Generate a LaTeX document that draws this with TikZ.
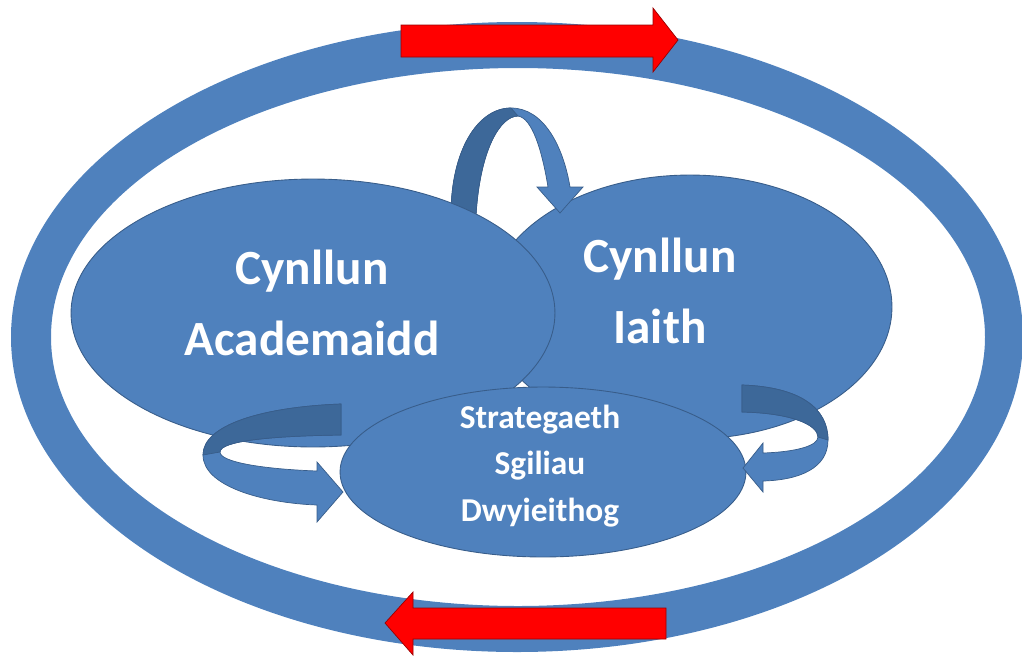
\documentclass[tikz,border=0pt]{standalone}
\usepackage{fontspec}
\setmainfont{Carlito}
\usepackage{tikz}
\usetikzlibrary{shapes.geometric,positioning}

\definecolor{offblue}{HTML}{4F81BD}
\definecolor{offline}{HTML}{385D8A}
\definecolor{offdark}{HTML}{3D6899}

\begin{document}
\begin{tikzpicture}[x=0.02cm,y=-0.02cm]
    \tikzstyle{blob}=[draw=offline,fill=offblue,ellipse,inner sep=0pt,line width=0.5pt]
    \tikzstyle{curlarrow}=[draw=offline,fill=offblue,line width=0.4pt]
    \tikzstyle{redarrow}=[draw=red!60!black,fill=red,line width=0.4pt]
    \tikzstyle{bigtext}=[text=white,font=\bfseries\fontsize{28}{40}\selectfont,align=center]
    \tikzstyle{smalltext}=[text=white,font=\bfseries\fontsize{19}{26.5}\selectfont,align=center]

    \useasboundingbox (0,0) rectangle (1022,657);

    % outer loop
    \fill[offblue,even odd rule] (517,337) ellipse (506 and 315) (518,337) ellipse (467 and 269);
    \draw[redarrow] (401,25) -- (653,25) -- (653,8) -- (678,40) -- (653,72) -- (653,57) -- (401,57) -- cycle;
    \draw[redarrow] (666,608) -- (413,608) -- (413,592) -- (385,623) -- (413,655) -- (413,639) -- (666,639) -- cycle;

    \node[blob,minimum width=8.08cm,minimum height=5.28cm] at (690,307) (iaith) {};

    % arrow over the top
    \draw[curlarrow] (451,215) .. controls (451,150) and (478,108) .. (511,108) .. controls (543,108) and (563,145) .. (570,187)
      -- (583,187) -- (560,213) -- (537,187) -- (548,187) .. controls (542,150) and (532,118) .. (518,116)
      .. controls (500,116) and (480,150) .. (476,215) -- cycle;
    \draw[curlarrow,fill=offdark] (451,215) .. controls (451,150) and (478,108) .. (511,108) -- (518,116)
      .. controls (500,116) and (480,150) .. (476,215) -- cycle;

    \node[blob,minimum width=9.68cm,minimum height=5.36cm] at (313,313) (acad) {};
    \node[blob,minimum width=8.12cm,minimum height=3.4cm] at (543,472) (sgil) {};

    % side arrows
    \draw[curlarrow] (341,404) .. controls (262,407) and (203,425) .. (203,455) .. controls (203,486) and (262,503) .. (317,505)
      -- (317,522) -- (343,492) -- (317,462) -- (317,471) .. controls (262,469) and (220,462) .. (220,452)
      .. controls (220,441) and (270,436) .. (341,435) -- cycle;
    \draw[curlarrow,fill=offdark] (341,404) .. controls (262,407) and (203,425) .. (203,455) -- (220,452)
      .. controls (220,441) and (270,436) .. (341,435) -- cycle;
    \draw[curlarrow] (742,385) .. controls (800,387) and (828,408) .. (828,440) .. controls (828,468) and (800,480) .. (763,481)
      -- (763,492) -- (743,468) -- (763,443) -- (763,453) .. controls (795,452) and (818,446) .. (818,437)
      .. controls (818,425) and (792,413) .. (742,412) -- cycle;
    \draw[curlarrow,fill=offdark] (742,385) .. controls (800,387) and (828,408) .. (828,440) -- (818,437)
      .. controls (818,425) and (792,413) .. (742,412) -- cycle;

    \node[bigtext] at (312,303) (acadtxt) {Cynllun\\Academaidd};
    \node[bigtext] at (660,291) (iaithtxt) {Cynllun\\Iaith};
    \node[smalltext] at (540,466) (sgiltxt) {Strategaeth\\Sgiliau\\Dwyieithog};
\end{tikzpicture}
\end{document}
